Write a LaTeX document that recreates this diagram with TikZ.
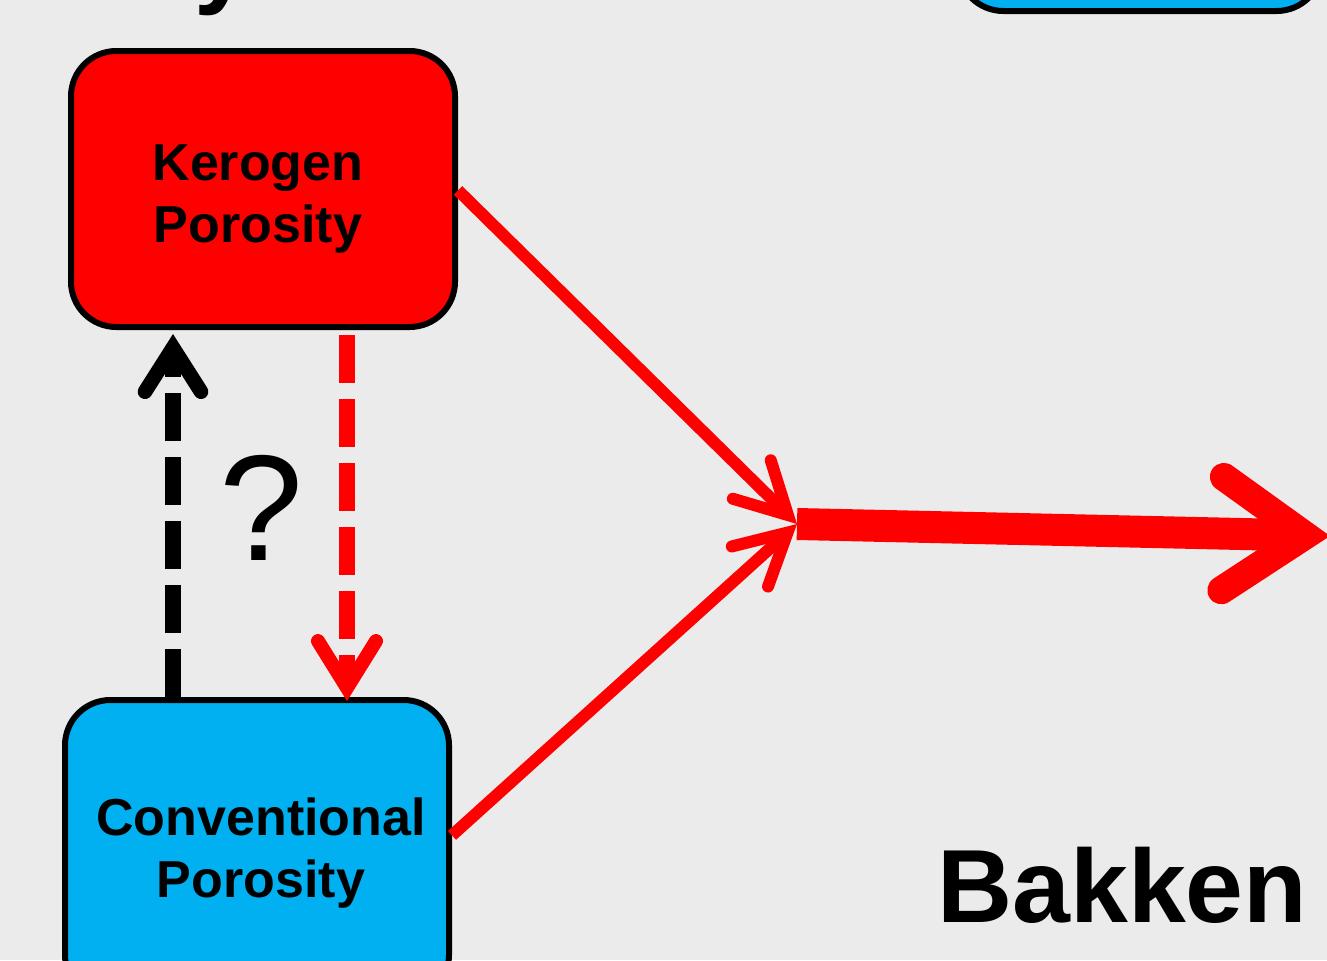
\documentclass[tikz,border=0pt]{standalone}
\usepackage{fontspec}
\setmainfont{Liberation Sans}
\usetikzlibrary{arrows.meta,calc}
\definecolor{bg}{HTML}{EBEBEB}
\definecolor{porored}{HTML}{FF0000}
\definecolor{poroblue}{HTML}{00B0F0}
\tikzset{
  porobox/.style={draw=black, line width=4.5pt, rounded corners=34pt,
    minimum width=288pt, inner sep=0pt},
  boxtext/.style={align=center, inner sep=0pt,
    font=\bfseries\fontsize{39pt}{47pt}\selectfont},
  barb/.style args={#1/#2/#3}{-{Straight Barb[length=#1, width=#2, line width=#3,
    line cap=round, line join=miter]}},
  dashlink/.style={line width=12pt, dash pattern=on 36pt off 12pt},
}
\begin{document}
\begin{tikzpicture}[x=0.75pt, y=-0.75pt]
  \useasboundingbox (0,0) rectangle (1327,960);
  \fill[bg] (0,0) rectangle (1327,960);
  \clip (0,0) rectangle (1327,960);

  % heading descender peeking in at the top
  \node[anchor=base west, inner sep=0pt, font=\bfseries\fontsize{77pt}{90pt}\selectfont]
    (head) at (194,-5) {y};

  % porosity boxes
  \node[porobox, fill=porored, minimum height=207pt] (ker) at (263,189) {};
  \node[boxtext] (kertext) at (258,199) {Kerogen\\Porosity};
  \node[porobox, fill=poroblue, minimum height=225pt] (conv) at (257,850) {};
  \node[boxtext] (convtext) at (261,853) {Conventional\\Porosity};
  \node[porobox, fill=poroblue, minimum width=273pt, minimum height=225pt]
    (topbox) at (1140,-139) {};

  % feedback between the two porosity types
  \coordinate (bx) at (173,0);
  \coordinate (rx) at (347,0);
  \draw[dashlink, black, barb=33pt/42pt/11pt]
    (conv.north -| bx) -- ([yshift=-3pt]ker.south -| bx);
  \draw[dashlink, porored, barb=35pt/43.5pt/10.5pt]
    ([yshift=-4pt]ker.south -| rx) -- ([yshift=-3pt]conv.north -| rx);
  \node[font=\fontsize{113pt}{125pt}\selectfont, inner sep=0pt] (q) at (261,508) {?};

  % both porosities feed the combined flow
  \coordinate (J) at (797,524);
  \coordinate (E) at (1330,536);
  \draw[porored, line width=9pt, barb=38pt/40.5pt/9pt]
    ([yshift=-1pt]ker.east) -- (J);
  \draw[porored, line width=9pt, barb=38pt/40.5pt/9pt]
    ([yshift=11pt]conv.east) -- (J);
  \draw[porored, line width=24pt, barb=62pt/85pt/21pt] (J) -- (E);

  \node[anchor=base west, inner sep=0pt, font=\bfseries\fontsize{78pt}{90pt}\selectfont]
    (bakken) at (937,922) {Bakken};
\end{tikzpicture}
\end{document}
